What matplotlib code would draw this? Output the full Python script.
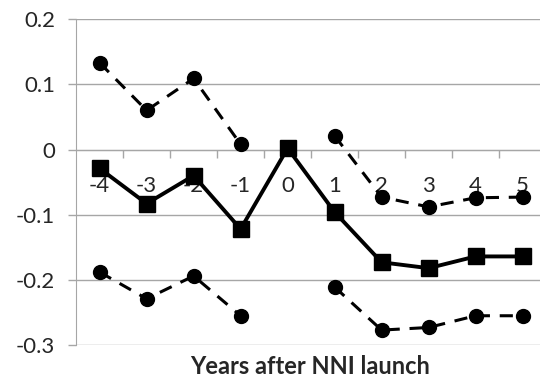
import matplotlib.pyplot as plt
import numpy as np

# years relative to launch
years = [-4, -3, -2, -1, 0, 1, 2, 3, 4, 5]
estimate = [-0.029, -0.083, -0.040, -0.122, 0.002, -0.096, -0.173, -0.182, -0.164, -0.164]
upper_ci = [0.133, 0.060, 0.109, 0.008, np.nan, 0.021, -0.073, -0.088, -0.074, -0.073]
lower_ci = [-0.188, -0.229, -0.194, -0.255, np.nan, -0.211, -0.277, -0.273, -0.255, -0.255]
y_ticks = [-0.3, -0.2, -0.1, 0, 0.1, 0.2]
y_tick_labels = ["-0.3", "-0.2", "-0.1", "0", "0.1", "0.2"]

plt.rcParams['font.family'] = ['Lato', 'DejaVu Sans']

fig = plt.figure(figsize=(5.4, 3.83), dpi=100)
ax = fig.add_axes([0.141, 0.099, 0.859, 0.851])

grid_col = "#a6a6a6"
text_col = "#262626"

#confidence bands, broken at year 0
for band in (upper_ci, lower_ci):
    ax.plot(years, band, color="black", linestyle=(0, (4.3, 3.2)), linewidth=2.2,
            marker="o", markersize=10, zorder=3)
#main estimate
ax.plot(years, estimate, color="black", linewidth=2.8, marker="s", markersize=11, zorder=4)

ax.set_ylim(-0.3, 0.2)
ax.set_xlim(-4.5, 5.37)
ax.set_yticks(y_ticks)
ax.set_yticklabels(y_tick_labels)
ax.yaxis.grid(True, color=grid_col, linewidth=1)
ax.set_axisbelow(True)

#x axis runs through zero, labels sit below it
ax.spines['bottom'].set_position(('data', 0))
ax.spines['bottom'].set_color(grid_col)
ax.spines['left'].set_color(grid_col)
ax.spines['top'].set_visible(False)
ax.spines['right'].set_visible(False)

ax.set_xticks(years)
ax.set_xticklabels([str(y) for y in years])
ax.set_xticks(np.arange(-3.5, 5.5, 1), minor=True)
ax.tick_params(axis='x', which='major', length=0, pad=19, labelsize=16, colors=text_col)
ax.tick_params(axis='x', which='minor', length=6, width=1, color=grid_col, direction='out')
ax.tick_params(axis='y', length=6, width=1, color=grid_col, pad=9, labelsize=16, labelcolor=text_col)

fig.text(0.575, 0.042, "Years after NNI launch", ha="center", va="center",
         fontsize=17, fontweight="bold", color=text_col)

plt.savefig("out.png", dpi=100)
plt.close()
